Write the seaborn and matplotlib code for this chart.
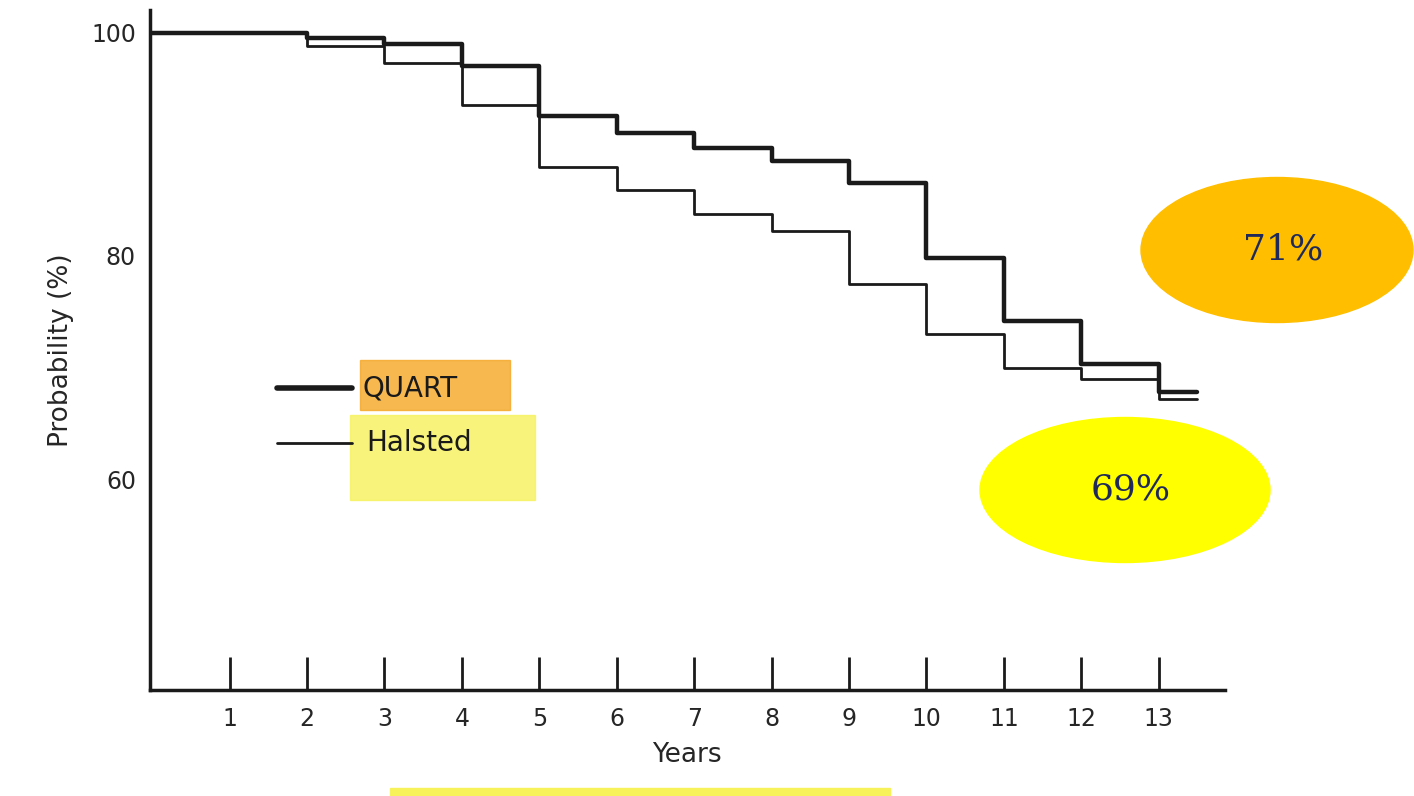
import matplotlib
matplotlib.use("Agg")
import matplotlib.pyplot as plt
import seaborn as sns
import pandas as pd
from matplotlib.patches import Ellipse, Rectangle

# step values (value held from each year onward)
years = [0, 2, 3, 4, 5, 6, 7, 8, 9, 10, 11, 12, 13, 13.5]
quart = [100, 99.5, 99.0, 97.0, 92.5, 91.0, 89.7, 88.5, 86.5, 79.8, 74.2, 70.3, 67.8, 67.8]
halsted = [100, 98.8, 97.3, 93.5, 88.0, 85.9, 83.8, 82.2, 77.5, 73.0, 70.0, 69.0, 67.2, 67.2]
xticks = list(range(1, 14))
yticks = [60, 80, 100]

df = pd.DataFrame({'Years': years, 'QUART': quart, 'Halsted': halsted})

sns.set_style("white")
fig = plt.figure(figsize=(14.14, 7.96), dpi=100)
ax = fig.add_axes([0.106, 0.133, 0.76, 0.854])

sns.lineplot(data=df, x='Years', y='QUART', drawstyle='steps-post', color='#1a1a1a', lw=3.2, ax=ax)
sns.lineplot(data=df, x='Years', y='Halsted', drawstyle='steps-post', color='#1a1a1a', lw=2.0, ax=ax)

ax.set_xlim(-0.03, 13.85)
ax.set_ylim(41.1, 102)
ax.set_xticks(xticks)
ax.set_xticklabels(['1' if t == 1 else str(t) for t in xticks], fontsize=17)
ax.set_yticks(yticks)
ax.set_yticklabels([str(t) for t in yticks], fontsize=17)
ax.tick_params(axis='x', bottom=True, direction='in', length=24, width=2, pad=12, color='#1a1a1a')
ax.tick_params(axis='y', length=0, pad=10)
for s in ['top', 'right']:
    ax.spines[s].set_visible(False)
for s in ['left', 'bottom']:
    ax.spines[s].set_linewidth(2.5)
    ax.spines[s].set_color('#1a1a1a')
ax.set_xlabel('Years', fontsize=19, labelpad=8)
ax.set_ylabel('Probability (%)', fontsize=19, labelpad=12)

# hand-made legend with highlights
fig.patches.append(Rectangle((360/1414, 1 - 410/796), 150/1414, 50/796, transform=fig.transFigure,
                             color='#f5a623', alpha=0.8, zorder=0))
fig.patches.append(Rectangle((350/1414, 1 - 500/796), 185/1414, 85/796, transform=fig.transFigure,
                             color='#f7f25a', alpha=0.8, zorder=0))
fig.lines.append(plt.Line2D([277/1414, 352/1414], [1 - 388/796] * 2, transform=fig.transFigure,
                            color='#1a1a1a', lw=4))
fig.lines.append(plt.Line2D([277/1414, 352/1414], [1 - 443/796] * 2, transform=fig.transFigure,
                            color='#1a1a1a', lw=2))
fig.text(363/1414, 1 - 388/796, 'QUART', fontsize=20, va='center', color='#1a1a1a')
fig.text(366/1414, 1 - 443/796, 'Halsted', fontsize=20, va='center', color='#1a1a1a')

# callout ellipses
for cx, cy, w, h, col, txt in [(1277, 250, 272, 145, '#ffbf00', '71%'),
                               (1125, 490, 290, 145, '#ffff00', '69%')]:
    fig.patches.append(Ellipse((cx/1414, 1 - cy/796), w/1414, h/796, transform=fig.transFigure,
                               color=col, zorder=3))
    fig.text(cx/1414 + 0.004, 1 - cy/796, txt, fontsize=26, family='DejaVu Serif',
             color='#1f2a5a', ha='center', va='center', zorder=4)

fig.patches.append(Rectangle((390/1414, 0), 500/1414, 8/796, transform=fig.transFigure,
                             color='#f7f25a', zorder=0))

fig.savefig('out.png', dpi=100)
